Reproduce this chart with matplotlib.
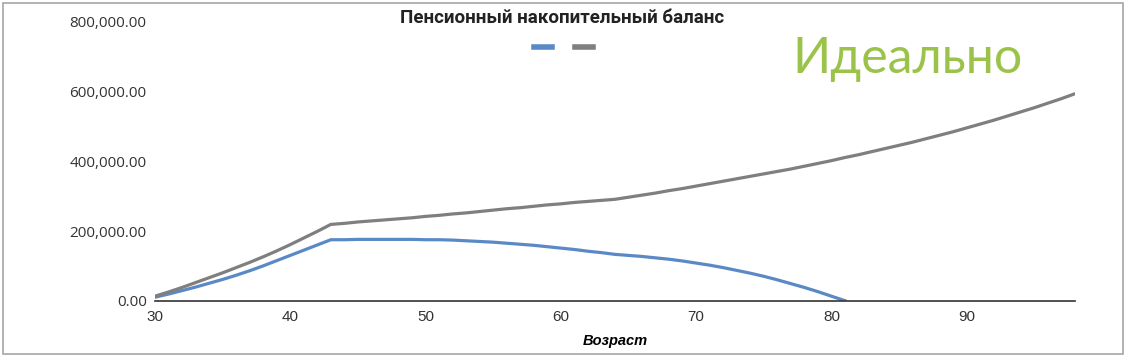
import matplotlib
matplotlib.use("Agg")
import matplotlib.pyplot as plt
from matplotlib.patches import Rectangle
from matplotlib.ticker import FuncFormatter

# ages and balances (thousands)
ages_total = list(range(30, 99))
balance_total = [13, 25, 38, 52, 66, 80, 95, 110, 126, 143,
                 161, 180, 199, 219, 222, 226, 229, 232, 235, 238,
                 242, 245, 249, 252, 256, 260, 264, 267, 271, 275,
                 278, 282, 285, 288, 291, 297, 303, 309, 316, 322,
                 329, 336, 343, 350, 357, 364, 371, 378, 386, 394,
                 402, 411, 419, 428, 437, 446, 455, 465, 475, 485,
                 496, 507, 518, 530, 542, 554, 567, 580, 594]
ages_payout = list(range(30, 82))
balance_payout = [10, 19, 29, 39, 50, 61, 73, 86, 100, 115,
                  130, 145, 160, 175, 175, 176, 176, 176, 176, 176,
                  175, 175, 174, 172, 170, 168, 165, 162, 159, 155,
                  151, 147, 142, 138, 133, 130, 127, 123, 119, 114,
                  108, 102, 95, 87, 79, 70, 60, 49, 38, 26,
                  13, 0]

title = "Пенсионный накопительный баланс"
x_label = "Возраст"
note = "Идеально"
y_ticks = [0, 200000, 400000, 600000, 800000]
x_ticks = [30, 40, 50, 60, 70, 80, 90]

blue = "#5b89c6"
grey = "#7f7f7f"

fig = plt.figure(figsize=(11.27, 3.57), dpi=100)
ax = fig.add_axes([0.1375, 0.1577, 0.8163, 0.7807])

l1, = ax.plot(ages_payout, [v * 1000 for v in balance_payout], color=blue, lw=2.3,
              solid_joinstyle="round")
l2, = ax.plot(ages_total, [v * 1000 for v in balance_total], color=grey, lw=2.3,
              solid_joinstyle="round")

ax.set_xlim(30, 98)
ax.set_ylim(0, 800000)
ax.set_xticks(x_ticks)
ax.set_yticks(y_ticks)
ax.yaxis.set_major_formatter(FuncFormatter(lambda v, p: f"{v:,.2f}"))

for s in ["top", "right", "left"]:
    ax.spines[s].set_visible(False)
ax.spines["bottom"].set_color("#333333")
ax.spines["bottom"].set_linewidth(1.2)

ax.tick_params(axis="both", length=0)
ax.tick_params(axis="y", pad=6, labelsize=11, labelcolor="#333333")
ax.tick_params(axis="x", pad=7, labelsize=11, labelcolor="#333333")
for t in ax.get_yticklabels():
    t.set_family("Open Sans")
for t in ax.get_xticklabels():
    t.set_family("Liberation Sans")

ax.set_xlabel(x_label, fontsize=10.5, fontweight="bold", fontstyle="italic",
              family="Liberation Sans", labelpad=7)

fig.text(0.4991, 0.950, title, ha="center", va="center", fontsize=13.5,
         fontweight="bold", family="Roboto", color="#222222")

fig.legend(handles=[l1, l2], labels=["", ""], ncol=2, frameon=False,
           loc="center", bbox_to_anchor=(0.500, 0.865), handlelength=1.35,
           handletextpad=0, columnspacing=1.6, fontsize=10,
           handleheight=0.7)
for h in fig.legends[0].legend_handles:
    h.set_linewidth(4)

fig.text(0.805, 0.835, note, ha="center", va="center", fontsize=36,
         color="#9bc34a", family="Lato")

fig.add_artist(Rectangle((3 / 1127, 3 / 357), 1120 / 1127, 351 / 357,
                         transform=fig.transFigure, fill=False,
                         edgecolor="#a6a6a6", lw=1.2))

fig.savefig("out.png", dpi=100)
